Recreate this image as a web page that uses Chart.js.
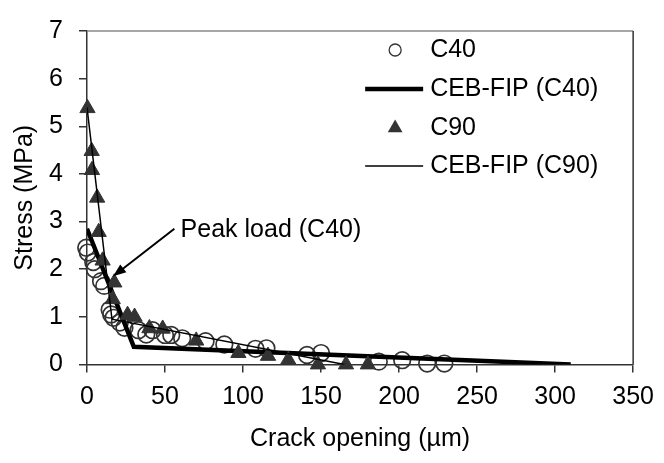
<!DOCTYPE html>
<html>
<head>
<meta charset="utf-8">
<script src="https://cdn.jsdelivr.net/npm/chart.js@4.4.0/dist/chart.umd.min.js"></script>
<style>
  html, body { margin: 0; padding: 0; background: #fff; }
  #wrap { width: 664px; height: 463px; }
</style>
</head>
<body>
<div id="wrap"><canvas id="chart" width="664" height="463"></canvas></div>
<script>
// C40 test points (crack opening in µm, stress in MPa)
const c40Crack  = [-1.5, -0.5, 0.5, 4, 5, 9, 11, 14.5, 15.5, 17, 21, 24, 33, 38, 42, 50, 54, 61, 76, 88, 108, 115, 141, 150, 187, 202, 218, 229];
const c40Stress = [2.55, 2.45, 2.35, 2.15, 2.0, 1.75, 1.65, 1.15, 1.05, 0.98, 0.88, 0.77, 0.72, 0.63, 0.72, 0.62, 0.62, 0.55, 0.49, 0.42, 0.33, 0.34, 0.2, 0.24, 0.06, 0.09, 0.02, 0.02];

// C90 test points
const c90Crack  = [0.3, 3, 3.2, 6.5, 7.5, 10, 17.5, 16.5, 26, 30.5, 40, 48.5, 70, 97, 116, 129, 148, 166, 180];
const c90Stress = [5.38, 4.48, 4.08, 3.5, 2.78, 2.18, 1.72, 1.37, 1.04, 1.0, 0.76, 0.75, 0.5, 0.24, 0.18, 0.1, 0.0, 0.0, 0.0];

// CEB-FIP bilinear softening curves
const cebC40Crack  = [0, 30, 310];
const cebC40Stress = [2.85, 0.37, 0];
const cebC90Crack  = [0, 16, 165];
const cebC90Stress = [5.4, 0.95, 0];

const xTickValues = [0, 50, 100, 150, 200, 250, 300, 350];
const yTickValues = [0, 1, 2, 3, 4, 5, 6, 7];

// annotation (data coordinates)
const peakLabel = 'Peak load (C40)';
const peakLabelAt = [60, 2.83];
const peakArrowFrom = [56, 2.85];
const peakArrowTo = [16.7, 1.85];

const FONT = '"Liberation Sans", Arial, sans-serif';
const FONT_SIZE = 25;
const INK = '#333';

function toPoints(xs, ys) {
    return xs.map((v, i) => ({ x: v, y: ys[i] }));
}

const legendRows = [
    { label: 'C40', kind: 'circle' },
    { label: 'CEB-FIP (C40)', kind: 'thick' },
    { label: 'C90', kind: 'triangle' },
    { label: 'CEB-FIP (C90)', kind: 'thin' }
];

const overlayPlugin = {
    id: 'overlay',
    afterDraw(chart) {
        const { ctx, chartArea: a, scales: { x, y } } = chart;
        ctx.save();

        // plot frame, top and right
        ctx.lineWidth = 1.5;
        ctx.strokeStyle = '#888';
        ctx.beginPath();
        ctx.moveTo(a.left, a.top);
        ctx.lineTo(a.right, a.top);
        ctx.stroke();
        ctx.strokeStyle = INK;
        ctx.beginPath();
        ctx.moveTo(a.right, a.top);
        ctx.lineTo(a.right, a.bottom);
        ctx.stroke();

        // peak load arrow
        const x0 = x.getPixelForValue(peakArrowFrom[0]), y0 = y.getPixelForValue(peakArrowFrom[1]);
        const x1 = x.getPixelForValue(peakArrowTo[0]), y1 = y.getPixelForValue(peakArrowTo[1]);
        const ang = Math.atan2(y1 - y0, x1 - x0);
        const headLen = 13, headW = 5;
        ctx.strokeStyle = '#000';
        ctx.fillStyle = '#000';
        ctx.lineWidth = 2;
        ctx.beginPath();
        ctx.moveTo(x0, y0);
        ctx.lineTo(x1 - Math.cos(ang) * headLen * 0.8, y1 - Math.sin(ang) * headLen * 0.8);
        ctx.stroke();
        ctx.beginPath();
        ctx.moveTo(x1, y1);
        ctx.lineTo(x1 - Math.cos(ang) * headLen - Math.sin(ang) * headW, y1 - Math.sin(ang) * headLen + Math.cos(ang) * headW);
        ctx.lineTo(x1 - Math.cos(ang) * headLen + Math.sin(ang) * headW, y1 - Math.sin(ang) * headLen - Math.cos(ang) * headW);
        ctx.closePath();
        ctx.fill();

        ctx.font = FONT_SIZE + 'px ' + FONT;
        ctx.textBaseline = 'middle';
        ctx.textAlign = 'left';
        ctx.fillStyle = '#000';
        ctx.fillText(peakLabel, x.getPixelForValue(peakLabelAt[0]), y.getPixelForValue(peakLabelAt[1]));

        // legend
        const symX = a.right - 238, lineL = a.right - 268, lineR = a.right - 210, textX = a.right - 203;
        const rowY = [50, 89, 128, 166];
        legendRows.forEach((row, i) => {
            const ry = rowY[i];
            ctx.strokeStyle = INK;
            ctx.fillStyle = INK;
            if (row.kind === 'circle') {
                ctx.lineWidth = 1.3;
                ctx.beginPath();
                ctx.arc(symX, ry, 6, 0, Math.PI * 2);
                ctx.stroke();
            } else if (row.kind === 'triangle') {
                const r = 8.5;
                ctx.beginPath();
                ctx.moveTo(symX, ry - r);
                ctx.lineTo(symX + r * 0.866, ry + r * 0.5);
                ctx.lineTo(symX - r * 0.866, ry + r * 0.5);
                ctx.closePath();
                ctx.fill();
            } else {
                ctx.strokeStyle = '#000';
                ctx.lineWidth = row.kind === 'thick' ? 4.5 : 1.5;
                ctx.beginPath();
                ctx.moveTo(lineL, ry);
                ctx.lineTo(lineR, ry);
                ctx.stroke();
            }
            ctx.fillStyle = '#000';
            ctx.fillText(row.label, textX, ry);
        });

        ctx.restore();
    }
};

const tickFont = { family: FONT, size: FONT_SIZE };

new Chart(document.getElementById('chart'), {
    type: 'scatter',
    data: {
        datasets: [
            {
                label: 'C40',
                data: toPoints(c40Crack, c40Stress),
                pointStyle: 'circle',
                pointRadius: 8.3,
                pointBorderWidth: 1.7,
                pointBorderColor: INK,
                pointBackgroundColor: 'rgba(255,255,255,0)',
                clip: false,
                order: 4
            },
            {
                label: 'CEB-FIP (C40)',
                data: toPoints(cebC40Crack, cebC40Stress),
                showLine: true,
                borderColor: '#000',
                borderWidth: 4.5,
                pointRadius: 0,
                order: 3
            },
            {
                label: 'C90',
                data: toPoints(c90Crack, c90Stress),
                pointStyle: 'triangle',
                pointRadius: 8.8,
                pointBorderWidth: 1,
                pointBorderColor: INK,
                pointBackgroundColor: INK,
                clip: false,
                order: 2
            },
            {
                label: 'CEB-FIP (C90)',
                data: toPoints(cebC90Crack, cebC90Stress),
                showLine: true,
                borderColor: '#000',
                borderWidth: 1.5,
                pointRadius: 0,
                order: 1
            }
        ]
    },
    options: {
        responsive: false,
        animation: false,
        layout: { padding: { top: 14, right: 26, left: 0, bottom: 0 } },
        plugins: {
            legend: { display: false },
            tooltip: { enabled: false }
        },
        scales: {
            x: {
                type: 'linear',
                min: 0,
                max: 350,
                afterBuildTicks: s => { s.ticks = xTickValues.map(v => ({ value: v })); },
                afterFit: s => { s.height = 463 - 364.5; },
                ticks: { font: tickFont, color: '#000', padding: 10, maxRotation: 0 },
                grid: { drawOnChartArea: false, tickLength: 8, color: INK, lineWidth: 1.5 },
                border: { color: INK, width: 1.5 },
                title: { display: true, text: 'Crack opening (µm)', font: tickFont, color: '#000', padding: { top: 0, bottom: 9 } }
            },
            y: {
                type: 'linear',
                min: 0,
                max: 7,
                afterBuildTicks: s => { s.ticks = yTickValues.map(v => ({ value: v })); },
                afterFit: s => { s.width = 87; },
                ticks: { font: tickFont, color: '#000', padding: 16 },
                grid: { drawOnChartArea: false, tickLength: 8, color: INK, lineWidth: 1.5 },
                border: { color: INK, width: 1.5 },
                title: { display: true, text: 'Stress (MPa)', font: tickFont, color: '#000', padding: { top: 10, bottom: 0 } }
            }
        }
    },
    plugins: [overlayPlugin]
});
</script>
</body>
</html>
